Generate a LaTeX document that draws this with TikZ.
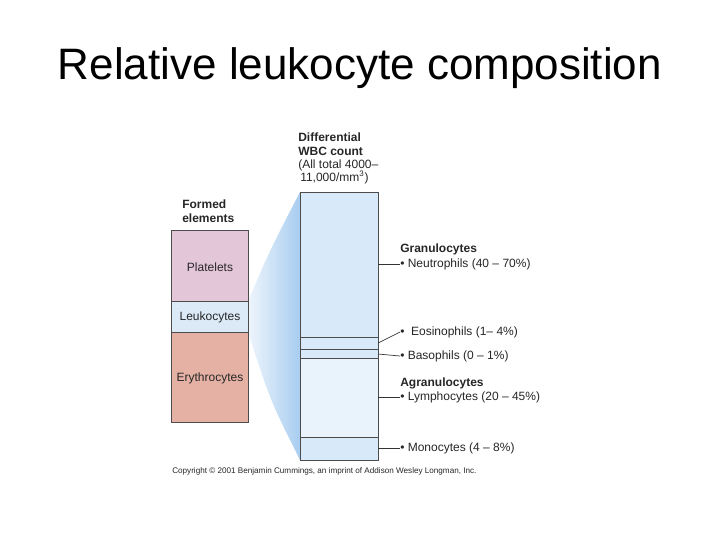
\documentclass[tikz,border=0pt]{standalone}
\usepackage{fontspec}
\setmainfont{Liberation Sans}
\definecolor{plt}{HTML}{E4C6D9}
\definecolor{leu}{HTML}{DCEAF8}
\definecolor{ery}{HTML}{E5B1A4}
\definecolor{gran}{HTML}{D8E9F9}
\definecolor{agr}{HTML}{E9F3FC}
\definecolor{fanL}{HTML}{EEF5FC}
\definecolor{fanR}{HTML}{A8CDF0}

\begin{document}
\begin{tikzpicture}[x=0.75pt,y=-0.75pt,
  cell/.style={draw=black!70,line width=0.4pt},
  lab/.style={anchor=west,font=\fontsize{9}{10}\selectfont,text=black!85,inner sep=0pt},
  hd/.style={lab,font=\fontsize{9}{10}\selectfont\bfseries,align=left},
  tick/.style={line width=0.5pt,black!80}]

\useasboundingbox (0,0) rectangle (720,540);

% Titel
\node (title) at (360,68) {\fontsize{33}{38}\selectfont Relative leukocyte composition};

% Faecher
\shade[left color=fanL,right color=fanR] (248,301) .. controls (270,250) .. (300,192)
  -- (300,460) .. controls (270,400) .. (248,332) -- cycle;

% linke Saeule
\node[hd,anchor=north west] (fe) at (182,200) {Formed\\elements};
\filldraw[cell,fill=plt] (171,230) rectangle (248,301);
\filldraw[cell,fill=leu] (171,301) rectangle (248,332);
\filldraw[cell,fill=ery] (171,332) rectangle (248,422);
\node[font=\fontsize{9}{10}\selectfont,text=black!85] (pl) at (210,267) {Platelets};
\node[font=\fontsize{9}{10}\selectfont,text=black!85] (le) at (210,317) {Leukocytes};
\node[font=\fontsize{9}{10}\selectfont,text=black!85] (er) at (210,378) {Erythrocytes};

% rechte Saeule
\node[hd,anchor=north west] (wbc) at (298,133) {Differential\\WBC count\\{\mdseries(All total 4000–}\\{\mdseries\,11,000/mm\textsuperscript{3})}};
\filldraw[cell,fill=gran] (300,192) rectangle (378,337);
\filldraw[cell,fill=gran] (300,337) rectangle (378,349);
\filldraw[cell,fill=gran] (300,349) rectangle (378,358);
\filldraw[cell,fill=agr] (300,358) rectangle (378,437);
\filldraw[cell,fill=gran] (300,437) rectangle (378,460);

% Beschriftungen
\node[hd] (gr) at (400,249) {Granulocytes};
\node[lab] (ne) at (400,264) {• Neutrophils (40 – 70\%)};
\node[lab] (eo) at (400,332) {•\ \ Eosinophils (1– 4\%)};
\node[lab] (ba) at (400,356) {• Basophils (0 – 1\%)};
\node[hd] (ag) at (400,383) {Agranulocytes};
\node[lab] (ly) at (400,397) {• Lymphocytes (20 – 45\%)};
\node[lab] (mo) at (400,448) {• Monocytes (4 – 8\%)};

\draw[tick] (378,264) -- (ne.west);
\draw[tick] (378,343) -- (eo.west);
\draw[tick] (378,354) -- (ba.west);
\draw[tick] (378,397) -- (ly.west);
\draw[tick] (378,448) -- (mo.west);

% Copyright
\node[lab,font=\fontsize{6.1}{7}\selectfont] (cp) at (172,471) {Copyright © 2001 Benjamin Cummings, an imprint of Addison Wesley Longman, Inc.};

\end{tikzpicture}
\end{document}
